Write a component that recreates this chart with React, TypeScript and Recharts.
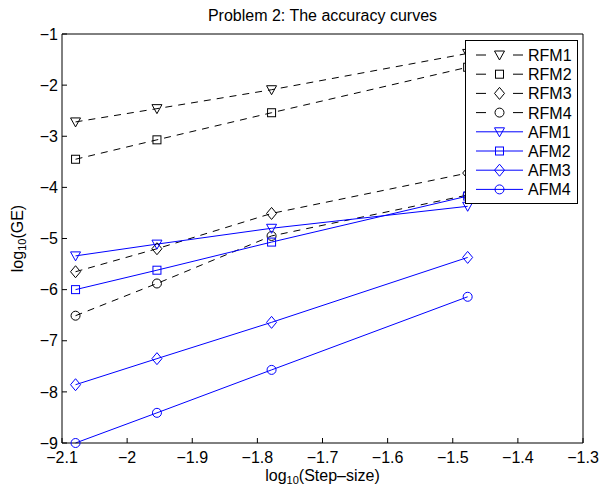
import React from "react";
import { LineChart, Line, XAxis, YAxis, Legend } from "recharts";

// log10 of the step sizes (1/120, 1/90, 1/60, 1/30)
const STEP_X = [-2.0792, -1.9542, -1.7782, -1.4771];
const X_TICKS = [-2.1, -2, -1.9, -1.8, -1.7, -1.6, -1.5, -1.4, -1.3];
const Y_TICKS = [-9, -8, -7, -6, -5, -4, -3, -2, -1];

const RFM1 = [-2.72, -2.46, -2.09, -1.38];
const RFM2 = [-3.45, -3.07, -2.54, -1.65];
const RFM3 = [-5.65, -5.2, -4.51, -3.72];
const RFM4 = [-6.51, -5.88, -4.95, -4.15];
const AFM1 = [-5.34, -5.11, -4.8, -4.37];
const AFM2 = [-6.0, -5.62, -5.07, -4.17];
const AFM3 = [-7.86, -7.35, -6.64, -5.37];
const AFM4 = [-9.0, -8.41, -7.57, -6.14];

type MarkerKind = "triangle" | "square" | "diamond" | "circle";

const BLUE = "#0000ff";
const FONT = "'Liberation Sans', Arial, Helvetica, sans-serif";

const SERIES: { name: string; values: number[]; color: string; dashed: boolean; marker: MarkerKind }[] = [
  { name: "RFM1", values: RFM1, color: "#000", dashed: true, marker: "triangle" },
  { name: "RFM2", values: RFM2, color: "#000", dashed: true, marker: "square" },
  { name: "RFM3", values: RFM3, color: "#000", dashed: true, marker: "diamond" },
  { name: "RFM4", values: RFM4, color: "#000", dashed: true, marker: "circle" },
  { name: "AFM1", values: AFM1, color: BLUE, dashed: false, marker: "triangle" },
  { name: "AFM2", values: AFM2, color: BLUE, dashed: false, marker: "square" },
  { name: "AFM3", values: AFM3, color: BLUE, dashed: false, marker: "diamond" },
  { name: "AFM4", values: AFM4, color: BLUE, dashed: false, marker: "circle" },
];

function Marker({ kind, cx, cy, color }: { kind: MarkerKind; cx: number; cy: number; color: string }) {
  const common = { fill: "none", stroke: color, strokeWidth: 1 };
  if (kind === "triangle")
    return <polygon {...common} points={`${cx - 5},${cy - 4} ${cx + 5},${cy - 4} ${cx},${cy + 5}`} />;
  if (kind === "square") return <rect {...common} x={cx - 4} y={cy - 4} width={8} height={8} />;
  if (kind === "diamond")
    return <polygon {...common} points={`${cx},${cy - 6} ${cx + 5},${cy} ${cx},${cy + 6} ${cx - 5},${cy}`} />;
  return <circle {...common} cx={cx} cy={cy} r={4.5} />;
}

const fmt = (v: number) => String(v).replace("-", "\u2212");

function LegendBox() {
  return (
    <div
      style={{
        width: 111,
        height: 162,
        border: "1px solid #000",
        background: "#fff",
        fontFamily: FONT,
        fontSize: 16,
        boxSizing: "content-box",
      }}
    >
      <svg width={111} height={162}>
        {SERIES.map((s, i) => {
          const y = 14 + i * 19.2;
          return (
            <g key={s.name}>
              <line
                x1={10}
                x2={57}
                y1={y}
                y2={y}
                stroke={s.color}
                strokeWidth={1}
                strokeDasharray={s.dashed ? "10 27" : undefined}
              />
              <Marker kind={s.marker} cx={33.5} cy={y} color={s.color} />
              <text x={62} y={y + 6} fontSize={16} fill="#000" fontFamily={FONT}>
                {s.name}
              </text>
            </g>
          );
        })}
      </svg>
    </div>
  );
}

const XLabel = (props: any) => {
  const vb = props.viewBox;
  const cx = vb.x + vb.width / 2;
  return (
    <text x={cx} y={481} textAnchor="middle" fontSize={16} fontFamily={FONT} fill="#000">
      log<tspan fontSize={11} dy={3}>10</tspan>
      <tspan dy={-3}>(Step–size)</tspan>
    </text>
  );
};

const YLabel = (props: any) => {
  const vb = props.viewBox;
  const cy = vb.y + vb.height / 2;
  return (
    <text
      transform={`translate(23, ${cy}) rotate(-90)`}
      textAnchor="middle"
      fontSize={16}
      fontFamily={FONT}
      fill="#000"
    >
      log<tspan fontSize={11} dy={3}>10</tspan>
      <tspan dy={-3}>(GE)</tspan>
    </text>
  );
};

const tickStyle = { fontSize: 16, fill: "#000", fontFamily: FONT };
const axisStroke = { stroke: "#000", strokeWidth: 1 };

export default function App() {
  return (
    <div style={{ position: "absolute", left: 0, top: 0, width: 601, height: 485, background: "#fff" }}>
      <div
        style={{
          position: "absolute",
          left: 62,
          width: 521,
          top: 8,
          textAlign: "center",
          fontFamily: FONT,
          fontSize: 16,
          lineHeight: "16px",
          color: "#000",
        }}
      >
        Problem 2: The accuracy curves
      </div>
      <LineChart width={601} height={485} margin={{ top: 33, right: 17, bottom: 0, left: 0 }}>
        <XAxis
          xAxisId={0}
          type="number"
          dataKey="x"
          domain={[-2.1, -1.3]}
          ticks={X_TICKS}
          tickFormatter={fmt}
          tick={tickStyle}
          tickSize={-5}
          tickMargin={14}
          axisLine={axisStroke}
          tickLine={axisStroke}
          height={42}
          label={{ content: XLabel }}
        />
        <XAxis
          xAxisId="top"
          orientation="top"
          type="number"
          dataKey="x"
          domain={[-2.1, -1.3]}
          ticks={X_TICKS}
          tick={false}
          tickSize={-5}
          axisLine={axisStroke}
          tickLine={axisStroke}
          height={1}
        />
        <YAxis
          yAxisId={0}
          type="number"
          domain={[-9, -1]}
          ticks={Y_TICKS}
          tickFormatter={fmt}
          tick={tickStyle}
          tickSize={-5}
          tickMargin={9}
          axisLine={axisStroke}
          tickLine={axisStroke}
          width={62}
          label={{ content: YLabel }}
        />
        <YAxis
          yAxisId="right"
          orientation="right"
          type="number"
          domain={[-9, -1]}
          ticks={Y_TICKS}
          tick={false}
          tickSize={-5}
          axisLine={axisStroke}
          tickLine={axisStroke}
          width={1}
        />
        {SERIES.map((s) => (
          <Line
            key={s.name}
            name={s.name}
            data={STEP_X.map((x, i) => ({ x, y: s.values[i] }))}
            dataKey="y"
            stroke={s.color}
            strokeWidth={1}
            strokeDasharray={s.dashed ? "7 6" : undefined}
            isAnimationActive={false}
            dot={(p: any) => <Marker key={`${s.name}-${p.index}`} kind={s.marker} cx={p.cx} cy={p.cy} color={s.color} />}
            activeDot={false}
          />
        ))}
        <Legend
          layout="horizontal"
          verticalAlign="middle"
          align="center"
          content={() => <LegendBox />}
          wrapperStyle={{ left: 465, top: 40, width: 113, height: 164 }}
        />
      </LineChart>
    </div>
  );
}
